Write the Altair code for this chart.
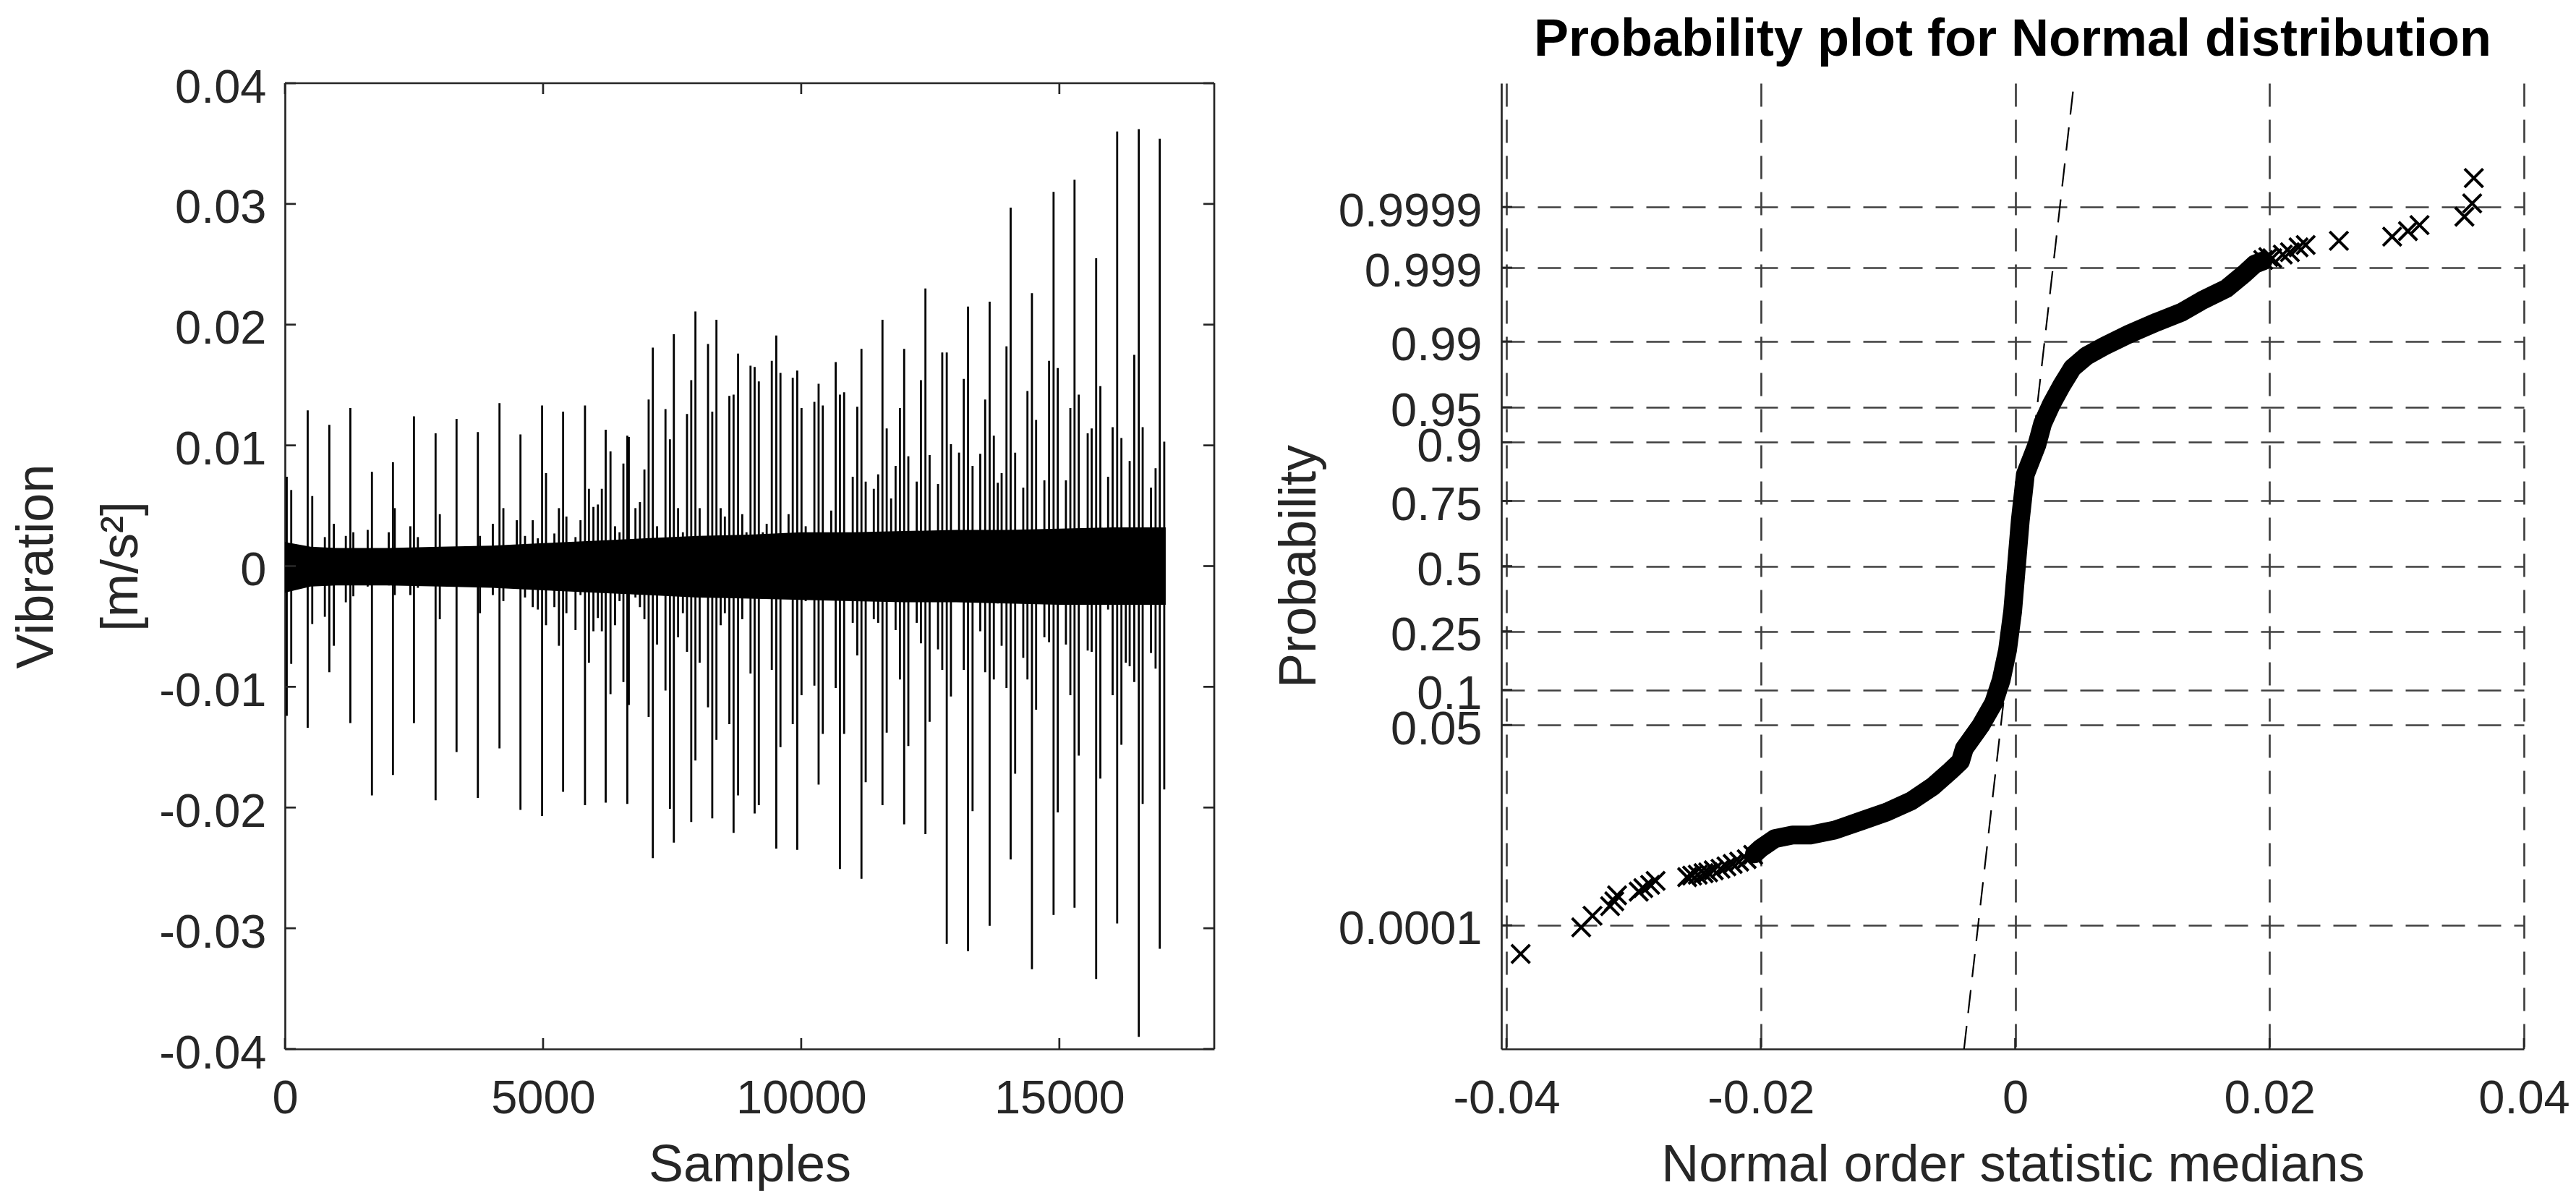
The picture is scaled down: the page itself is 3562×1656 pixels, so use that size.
import altair as alt
import pandas as pd

# ---------------- Left panel: vibration signal ----------------
spike_sample = [35, 122, 441, 529, 860, 947, 1267, 1685, 2092, 2499, 2918, 3324, 3737, 4156, 4562,
                4981, 5057, 5388, 5812, 6213, 6306, 6556, 6632, 6661, 6963, 7045, 7126, 7371, 7457,
                7533, 7788, 7870, 7951, 8195, 8277, 8358, 8608, 8690, 8777, 9018,
                9098, 9179, 9430, 9517, 9598, 9836, 9923, 10006, 10255, 10337, 10418, 10668, 10750,
                10831, 11086, 11167, 11249, 11574, 11656, 11912, 11994, 12075, 12319, 12406, 12487,
                12732, 12819, 12900, 13149, 13231, 13319, 13563, 13650, 13731, 13976, 14057, 14144,
                14382, 14469, 14550, 14801, 14888, 14969, 15213, 15294, 15376, 15626, 15713, 15794,
                16032, 16120, 16202, 16451, 16539, 16614, 16864, 16945, 17032,
                773, 1179, 1325, 1603, 2011, 2127, 2429, 2575, 3000, 3778, 4027, 4231, 4491, 4650,
                4800, 4899, 5219, 5307, 5452, 5628, 5725, 5888, 5975, 6062, 6138, 6394, 6481, 6789,
                6876, 7208, 7290, 7615, 7708, 8033, 8440, 8521, 8858, 8940,
                9256, 9331, 9680, 9755, 10087, 10581, 10998, 11406, 11490, 11741, 11828, 12237,
                12568, 12650, 13057, 13468, 13807, 13882, 14301, 14710, 15127, 15549, 15944, 16287,
                16362, 16775]
spike_max = [0.0074, 0.0063, 0.0129, 0.0058, 0.0117, 0.0035, 0.0131, 0.0078, 0.0086, 0.0124, 0.0110,
             0.0122, 0.0111, 0.0135, 0.0109, 0.0133, 0.0077, 0.0128, 0.0133, 0.0113, 0.0095, 0.0085,
             0.0108, 0.0107, 0.0080, 0.0138, 0.0181, 0.0130, 0.0105, 0.0192, 0.0126, 0.0154, 0.0211,
             0.0184, 0.0128, 0.0204, 0.0141, 0.0142, 0.0176, 0.0166,
             0.0165, 0.0153, 0.0170, 0.0191, 0.0160, 0.0156, 0.0162, 0.0131, 0.0136, 0.0151, 0.0133,
             0.0169, 0.0142, 0.0144, 0.0132, 0.0180, 0.0070, 0.0204, 0.0114, 0.0131, 0.0180, 0.0091,
             0.0154, 0.0230, 0.0092, 0.0177, 0.0177, 0.0101, 0.0155, 0.0215, 0.0083, 0.0138, 0.0219,
             0.0108, 0.0182, 0.0297, 0.0094, 0.0145, 0.0226, 0.0121, 0.0170, 0.0310, 0.0164, 0.0131,
             0.0320, 0.0142, 0.0114, 0.0255, 0.0149, 0.0115, 0.0360, 0.0106, 0.0175, 0.0362, 0.0115,
             0.0081, 0.0354, 0.0103,
             0.0024, 0.0025, 0.0028, 0.0030, 0.0028, 0.0048, 0.0033, 0.0024, 0.0043, 0.0025, 0.0035,
             0.0048, 0.0038, 0.0025, 0.0038, 0.0023, 0.0027, 0.0048, 0.0041, 0.0024, 0.0038, 0.0064,
             0.0049, 0.0051, 0.0064, 0.0033, 0.0028, 0.0048, 0.0053, 0.0033, 0.0023, 0.0048, 0.0028,
             0.0048, 0.0048, 0.0041, 0.0043, 0.0028,
             0.0028, 0.0035, 0.0020, 0.0043, 0.0033, 0.0046, 0.0074, 0.0064, 0.0076, 0.0056, 0.0083,
             0.0070, 0.0029, 0.0068, 0.0094, 0.0093, 0.0069, 0.0077, 0.0065, 0.0071, 0.0071, 0.0110,
             0.0074, 0.0032, 0.0087, 0.0065]
spike_min = [-0.0124, -0.0081, -0.0134, -0.0048, -0.0088, -0.0066, -0.0130, -0.0190, -0.0173, -0.0130,
             -0.0194, -0.0154, -0.0192, -0.0151, -0.0202, -0.0207, -0.0049, -0.0187, -0.0198, -0.0196,
             -0.0106, -0.0096, -0.0197, -0.0115, -0.0044, -0.0125, -0.0242, -0.0103, -0.0201, -0.0229,
             -0.0071, -0.0212, -0.0161, -0.0117, -0.0209, -0.0144, -0.0131, -0.0221, -0.0190, -0.0089,
             -0.0205, -0.0198, -0.0086, -0.0234, -0.0150, -0.0131, -0.0235, -0.0107, -0.0099, -0.0181,
             -0.0139, -0.0101, -0.0251, -0.0139, -0.0074, -0.0259, -0.0179, -0.0198, -0.0138, -0.0094,
             -0.0214, -0.0149, -0.0064, -0.0222, -0.0129, -0.0086, -0.0313, -0.0108, -0.0086, -0.0319,
             -0.0203, -0.0088, -0.0298, -0.0094, -0.0101, -0.0243, -0.0172, -0.0094, -0.0334, -0.0119,
             -0.0063, -0.0289, -0.0204, -0.0107, -0.0283, -0.0157, -0.0071, -0.0342, -0.0176, -0.0107,
             -0.0296, -0.0148, -0.0096, -0.0390, -0.0197, -0.0085, -0.0317, -0.0185,
             -0.0042, -0.0030, -0.0025, -0.0017, -0.0016, -0.0024, -0.0024, -0.0018, -0.0044, -0.0039,
             -0.0024, -0.0029, -0.0016, -0.0026, -0.0034, -0.0036, -0.0034, -0.0066, -0.0039, -0.0053,
             -0.0024, -0.0080, -0.0054, -0.0043, -0.0054, -0.0049, -0.0029, -0.0026, -0.0034, -0.0065,
             -0.0024, -0.0059, -0.0039, -0.0080, -0.0049, -0.0039, -0.0044, -0.0016,
             -0.0021, -0.0021, -0.0018, -0.0018, -0.0029, -0.0024, -0.0047, -0.0044, -0.0047, -0.0018,
             -0.0053, -0.0047, -0.0028, -0.0069, -0.0023, -0.0054, -0.0031, -0.0066, -0.0076, -0.0059,
             -0.0065, -0.0070, -0.0036, -0.0080, -0.0083, -0.0072]

band_sample = [0, 500, 1000, 2000, 3000, 4000, 5000, 6000, 7000, 8000, 9000, 10000, 11000, 12000,
               13000, 14000, 15000, 16000, 17060]
band_max = [0.0020, 0.0016, 0.0015, 0.0015, 0.0016, 0.0017, 0.0019, 0.0021, 0.0023, 0.0025, 0.0026,
            0.0028, 0.0028, 0.0029, 0.0030, 0.0030, 0.0031, 0.0032, 0.0032]
band_min = [-0.0022, -0.0017, -0.0016, -0.0016, -0.0017, -0.0018, -0.0020, -0.0022, -0.0024, -0.0026,
            -0.0027, -0.0028, -0.0029, -0.0030, -0.0030, -0.0031, -0.0032, -0.0032, -0.0032]

x_ticks_left = [0, 5000, 10000, 15000]
y_ticks_left = [-0.04, -0.03, -0.02, -0.01, 0.0, 0.01, 0.02, 0.03, 0.04]

# ---------------- Right panel: normal probability plot ----------------
tail_x = [-0.03888, -0.03412, -0.03323, -0.03185, -0.03152, -0.03130, -0.02960, -0.02924, -0.02870,
          -0.02827, -0.02579, -0.02540, -0.02496, -0.02450, -0.02414, -0.02370, -0.02317, -0.02270,
          -0.02221, -0.02170, -0.02111, -0.02060,
          0.01950, 0.01990, 0.02021, 0.02104, 0.02160, 0.02228, 0.02284, 0.02545, 0.02964, 0.03088,
          0.03179, 0.03532, 0.03593, 0.03606]
tail_z = [-4.016, -3.741, -3.621, -3.521, -3.471, -3.409, -3.371, -3.334, -3.300, -3.259, -3.221,
          -3.205, -3.196, -3.180, -3.171, -3.150, -3.134, -3.110, -3.084, -3.060, -3.034, -2.990,
          3.170, 3.200, 3.188, 3.226, 3.250, 3.301, 3.325, 3.368, 3.411, 3.468, 3.531, 3.618, 3.756,
          4.018]
core_x = [-0.0205, -0.0200, -0.0189, -0.0175, -0.0161, -0.0142, -0.0120, -0.0101, -0.0082, -0.0065,
          -0.0051, -0.0043, -0.0040, -0.0027, -0.0017, -0.0011, -0.0006, -0.0002, 0.0001, 0.0004,
          0.0008, 0.0017, 0.00216, 0.00285, 0.00368, 0.0045, 0.00561, 0.00699, 0.00892, 0.01112,
          0.01305, 0.0147, 0.01663, 0.01801, 0.01884, 0.0195]
core_z = [-2.98, -2.921, -2.822, -2.784, -2.784, -2.734, -2.634, -2.547, -2.434, -2.284, -2.122,
          -2.023, -1.89, -1.65, -1.42, -1.18, -0.87, -0.47, 0.0, 0.47, 0.95, 1.252, 1.477, 1.676,
          1.876, 2.051, 2.176, 2.276, 2.401, 2.526, 2.626, 2.751, 2.876, 3.026, 3.126, 3.16]
ref_x = [-0.00402, 0.00462]
ref_z = [-5.0, 5.0]

prob_labels = ["0.0001", "0.05", "0.1", "0.25", "0.5", "0.75", "0.9", "0.95", "0.99", "0.999", "0.9999"]
prob_z = [-3.719, -1.6449, -1.2816, -0.6745, 0.0, 0.6745, 1.2816, 1.6449, 2.3263, 3.0902, 3.719]
x_ticks_right = [-0.04, -0.02, 0.0, 0.02, 0.04]

# ---------------- styling ----------------
FONT = "Liberation Sans"
TXT = "#262626"
GRID = "#404040"
W1, W2, H = 1285, 1414, 1335
TICK = 15
LW = 2.7

NUM_EXPR = ("abs(datum.value) < 1e-9 ? '0' : (datum.value < 0 ? '-' : '') + "
            "format(abs(datum.value), '.2f')")


def prob_expr():
    expr = "'" + prob_labels[-1] + "'"
    for i in range(len(prob_z) - 2, -1, -1):
        mid = (prob_z[i] + prob_z[i + 1]) / 2
        expr = f"datum.value < {mid:.4f} ? '{prob_labels[i]}' : ({expr})"
    return expr


def axis(**kw):
    base = dict(labelFont=FONT, labelFontSize=65, labelColor=TXT, titleFont=FONT,
                titleFontSize=72, titleFontWeight="normal", titleColor=TXT,
                domainColor=TXT, domainWidth=LW, ticks=False, tickSize=0,
                labelFlush=False, labelOverlap=False, labelLimit=600, titleLimit=2000,
                grid=False)
    base.update(kw)
    return alt.Axis(**base)


xs1 = alt.Scale(domain=[0, 18000], nice=False, zero=False)
ys1 = alt.Scale(domain=[-0.04, 0.04], nice=False, zero=False)
xs2 = alt.Scale(domain=[-0.0404, 0.04], nice=False, zero=False)
ys2 = alt.Scale(domain=[-5.0, 5.0], nice=False, zero=False)

left_x_axis = axis(values=x_ticks_left, format="d", labelPadding=37, title="Samples",
                   titleY=197, titleBaseline="bottom")
left_y_axis = axis(values=y_ticks_left, labelExpr=NUM_EXPR, labelPadding=26, labelOffset=6,
                   title=["Vibration", "[m/s²]"], titleX=-307, titleY=H / 2,
                   titleBaseline="bottom", titleLineHeight=117)

grid_kw = dict(grid=True, gridDash=[32, 18], gridColor=GRID, gridWidth=LW, gridOpacity=1)
right_x_axis = axis(values=x_ticks_right, labelExpr=NUM_EXPR, labelPadding=37,
                    title="Normal order statistic medians", titleY=197, titleBaseline="bottom",
                    **grid_kw)
right_y_axis = axis(values=prob_z, labelExpr=prob_expr(), labelPadding=27, labelOffset=6,
                    title="Probability", titleX=-243, titleY=H / 2, titleBaseline="bottom",
                    **grid_kw)


def X1(f):
    return alt.X(f, type="quantitative", scale=xs1, axis=left_x_axis)


def Y1(f):
    return alt.Y(f, type="quantitative", scale=ys1, axis=left_y_axis)


def X2(f):
    return alt.X(f, type="quantitative", scale=xs2, axis=right_x_axis)


def Y2(f):
    return alt.Y(f, type="quantitative", scale=ys2, axis=right_y_axis)


one = pd.DataFrame({"a": [0]})

# ---------------- left chart ----------------
band = alt.Chart(pd.DataFrame({"s": band_sample, "hi": band_max, "lo": band_min})).mark_area(
    color="black", opacity=1).encode(x=X1("s"), y=Y1("lo"), y2="hi")
spikes = alt.Chart(pd.DataFrame({"s": spike_sample, "hi": spike_max, "lo": spike_min})).mark_rule(
    color="black", strokeWidth=2.8).encode(x=X1("s"), y=Y1("lo"), y2="hi")
ydf1 = pd.DataFrame({"v": y_ticks_left})
xdf1 = pd.DataFrame({"v": x_ticks_left})
ytl = alt.Chart(ydf1).mark_rule(color=TXT, strokeWidth=LW).encode(
    y=Y1("v"), x=alt.value(0), x2=alt.value(TICK))
ytr = alt.Chart(ydf1).mark_rule(color=TXT, strokeWidth=LW).encode(
    y=Y1("v"), x=alt.value(W1 - TICK), x2=alt.value(W1))
xtb = alt.Chart(xdf1).mark_rule(color=TXT, strokeWidth=LW).encode(
    x=X1("v"), y=alt.value(H - TICK), y2=alt.value(H))
xtt = alt.Chart(xdf1).mark_rule(color=TXT, strokeWidth=LW).encode(
    x=X1("v"), y=alt.value(0), y2=alt.value(TICK))
top_border = alt.Chart(one).mark_rule(color=TXT, strokeWidth=LW).encode(
    x=alt.value(0), x2=alt.value(W1), y=alt.value(0))
right_border = alt.Chart(one).mark_rule(color=TXT, strokeWidth=LW).encode(
    x=alt.value(W1), y=alt.value(0), y2=alt.value(H))

left = alt.layer(band, spikes, ytl, ytr, xtb, xtt, top_border, right_border).properties(
    width=W1, height=H)

# ---------------- right chart ----------------
ref = alt.Chart(pd.DataFrame({"x": ref_x, "z": ref_z})).mark_line(
    color="black", strokeWidth=2.2, strokeDash=[32, 18], clip=True).encode(x=X2("x"), y=Y2("z"))
core = alt.Chart(pd.DataFrame({"x": core_x, "z": core_z, "i": list(range(len(core_x)))})).mark_line(
    color="black", strokeWidth=26, strokeCap="round", strokeJoin="round").encode(
    x=X2("x"), y=Y2("z"), order="i:Q")
tails = alt.Chart(pd.DataFrame({"x": tail_x, "z": tail_z})).mark_point(
    shape="M-1,-1L1,1M-1,1L1,-1", filled=False, size=650, strokeWidth=4, color="black",
    opacity=1).encode(x=X2("x"), y=Y2("z"))
ydf2 = pd.DataFrame({"v": prob_z})
xdf2 = pd.DataFrame({"v": x_ticks_right})
ytl2 = alt.Chart(ydf2).mark_rule(color=TXT, strokeWidth=LW).encode(
    y=Y2("v"), x=alt.value(0), x2=alt.value(TICK))
xtb2 = alt.Chart(xdf2).mark_rule(color=TXT, strokeWidth=LW).encode(
    x=X2("v"), y=alt.value(H - TICK), y2=alt.value(H))

right = alt.layer(ref, core, tails, ytl2, xtb2).properties(
    width=W2, height=H,
    title=alt.TitleParams("Probability plot for Normal distribution", font=FONT, fontSize=72,
                          fontWeight="bold", color="black", anchor="middle", frame="group",
                          baseline="alphabetic", offset=-34))

chart = alt.hconcat(left, right, spacing=397, bounds="flush").properties(
    padding={"left": 6, "top": 11, "right": 0, "bottom": 0},
    background="white").configure_view(strokeWidth=0)

chart.save("out.html", embed_options={"renderer": "svg", "actions": False})
